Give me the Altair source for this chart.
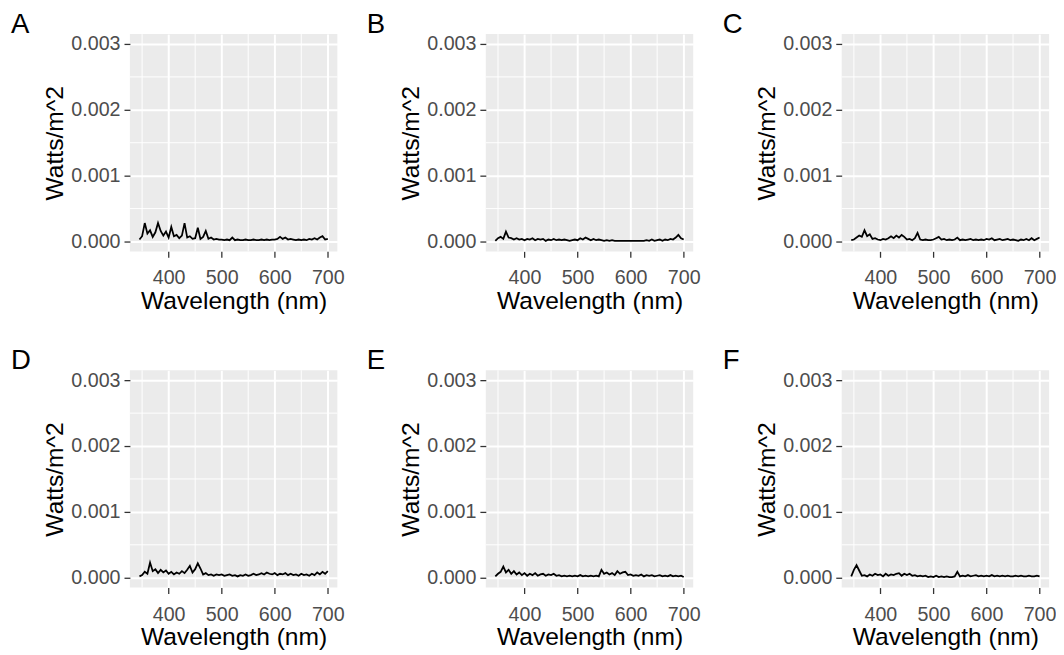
import altair as alt
import pandas as pd

# Wavelength grid (nm)
wavelength = [345, 350, 355, 360, 365, 370, 375, 380, 385, 390, 395, 400,
              405, 410, 415, 420, 425, 430, 435, 440, 445, 450, 455, 460,
              465, 470, 475, 480, 485, 490, 495, 500, 505, 510, 515, 520,
              525, 530, 535, 540, 545, 550, 555, 560, 565, 570, 575, 580,
              585, 590, 595, 600, 605, 610, 615, 620, 625, 630, 635, 640,
              645, 650, 655, 660, 665, 670, 675, 680, 685, 690, 695, 700]

# Irradiance per panel, in units of 1e-5 W/m^2
panel_A = [3, 8, 28, 12, 17, 7, 14, 28, 16, 9, 15, 6,
           22, 8, 10, 5, 9, 28, 6, 8, 4, 5, 21, 4,
           7, 16, 4, 6, 3, 4, 3, 3, 2, 3, 2, 6,
           2, 3, 2, 2, 3, 2, 2, 3, 2, 2, 3, 2,
           3, 2, 3, 3, 4, 7, 4, 6, 3, 4, 3, 2,
           3, 2, 3, 2, 4, 3, 5, 3, 6, 8, 3, 4]
panel_B = [1, 5, 7, 4, 15, 6, 5, 3, 5, 3, 4, 2,
           4, 3, 5, 2, 4, 3, 4, 1, 3, 2, 4, 2,
           3, 2, 3, 2, 1, 2, 3, 2, 5, 3, 6, 4,
           2, 4, 2, 3, 2, 1, 2, 1, 2, 1, 1, 1,
           1, 1, 1, 1, 1, 1, 1, 1, 1, 2, 1, 3,
           1, 2, 3, 1, 3, 2, 4, 3, 6, 10, 5, 3]
panel_C = [2, 3, 6, 9, 7, 17, 8, 11, 4, 5, 3, 2,
           4, 3, 5, 8, 5, 9, 6, 10, 7, 3, 4, 2,
           5, 13, 3, 2, 3, 2, 2, 3, 5, 7, 3, 4,
           2, 3, 2, 3, 6, 2, 3, 2, 3, 4, 2, 3,
           2, 3, 2, 4, 3, 5, 2, 3, 4, 2, 3, 4,
           2, 3, 2, 1, 3, 2, 4, 2, 5, 2, 4, 6]
panel_D = [2, 4, 9, 6, 23, 10, 13, 7, 12, 8, 11, 6,
           9, 5, 8, 6, 10, 7, 12, 18, 8, 13, 22, 14,
           5, 7, 4, 5, 3, 5, 4, 5, 3, 4, 5, 3,
           4, 2, 4, 3, 5, 3, 4, 6, 4, 5, 7, 5,
           8, 6, 5, 7, 4, 6, 5, 7, 4, 6, 4, 5,
           3, 6, 4, 5, 3, 6, 4, 8, 5, 9, 6, 10]
panel_E = [2, 6, 9, 17, 8, 12, 6, 10, 5, 8, 4, 7,
           3, 6, 4, 7, 3, 5, 6, 3, 5, 4, 6, 3,
           4, 2, 3, 2, 3, 2, 3, 2, 4, 2, 3, 2,
           3, 2, 3, 2, 12, 6, 8, 5, 7, 4, 10, 6,
           8, 9, 4, 5, 3, 4, 3, 5, 2, 4, 3, 4,
           2, 3, 4, 2, 3, 2, 4, 2, 3, 2, 3, 1]
panel_F = [2, 12, 19, 11, 3, 4, 2, 5, 3, 6, 4, 5,
           2, 6, 3, 5, 4, 6, 7, 3, 6, 4, 6, 3,
           4, 2, 3, 2, 3, 1, 2, 1, 3, 1, 2, 1,
           2, 1, 1, 2, 9, 2, 3, 2, 4, 2, 3, 4,
           2, 3, 2, 3, 2, 4, 2, 3, 2, 3, 2, 3,
           2, 2, 3, 2, 3, 2, 2, 3, 2, 2, 3, 2]

panel_letters = ["A", "B", "C", "D", "E", "F"]
panel_values = [panel_A, panel_B, panel_C, panel_D, panel_E, panel_F]

x_major = [400, 500, 600, 700]
x_minor = [350, 450, 550, 650]
y_major = [0.0, 0.001, 0.002, 0.003]
y_minor = [0.0005, 0.0015, 0.0025]

X_DOMAIN = [327, 718]
Y_DOMAIN = [-0.00015, 0.00315]
W, H = 211, 221
FONT = "Liberation Sans"


def panel(letter, vals):
    df = pd.DataFrame({"wl": wavelength, "w": [v * 1e-5 for v in vals]})
    xs = alt.Scale(domain=X_DOMAIN, nice=False, zero=False)
    ys = alt.Scale(domain=Y_DOMAIN, nice=False, zero=False)

    vminor = alt.Chart(pd.DataFrame({"x": x_minor})).mark_rule(
        color="white", strokeWidth=1
    ).encode(x=alt.X("x:Q", scale=xs))
    hminor = alt.Chart(pd.DataFrame({"y": y_minor})).mark_rule(
        color="white", strokeWidth=1
    ).encode(y=alt.Y("y:Q", scale=ys))

    line = alt.Chart(df).mark_line(color="black", strokeWidth=1.8).encode(
        x=alt.X("wl:Q", scale=xs, title="Wavelength (nm)",
                axis=alt.Axis(values=x_major, grid=True)),
        y=alt.Y("w:Q", scale=ys, title="Watts/m^2",
                axis=alt.Axis(values=y_major, format=".3f", grid=True)),
    )
    return alt.layer(vminor, hminor, line).properties(
        width=W, height=H,
        title=alt.TitleParams(letter, anchor="start", frame="bounds",
                              dx=-33, fontSize=28, font=FONT,
                              fontWeight="normal", baseline="alphabetic",
                              offset=-27, color="black"),
    )


panels = [panel(l, v) for l, v in zip(panel_letters, panel_values)]
row1 = alt.hconcat(*panels[:3], spacing=22)
row2 = alt.hconcat(*panels[3:], spacing=22)
chart = alt.vconcat(row1, row2, spacing=34).properties(
    padding={"left": 2, "top": -3, "right": 0, "bottom": 0},
    background="white",
).configure_view(
    fill="#EBEBEB", stroke=None
).configure_axis(
    domain=False,
    gridColor="white", gridWidth=2,
    tickColor="#333333", tickSize=6, tickWidth=1.3,
    labelColor="#4D4D4D", labelFont=FONT, labelFontSize=20,
    labelPadding=4,
    titleFont=FONT, titleFontSize=25, titleColor="black",
    titleFontWeight="normal", titlePadding=3,
).configure_axisX(
    labelPadding=11, titlePadding=1
)

chart.save("out.html", embed_options={"renderer": "svg", "actions": False})
